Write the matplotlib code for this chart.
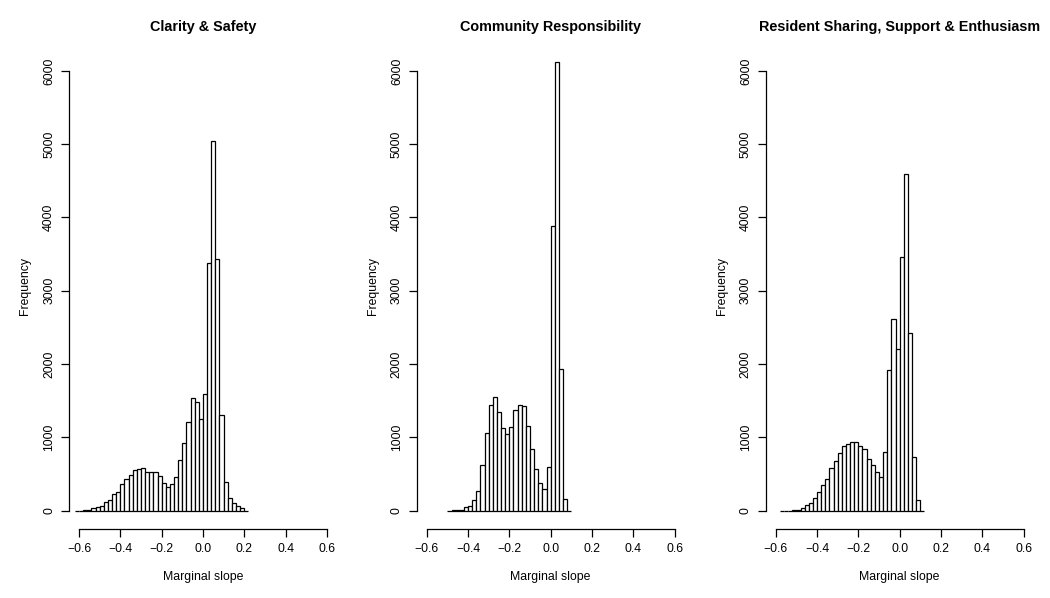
import numpy as np
import matplotlib
matplotlib.use("Agg")
import matplotlib.pyplot as plt

plt.rcParams['font.family'] = ['Liberation Sans', 'DejaVu Sans']

# ----------------------------------------
# Data (bin width 0.02, counts)
# ----------------------------------------
titles = ["Clarity & Safety",
          "Community Responsibility",
          "Resident Sharing, Support & Enthusiasm"]

bin_width = 0.02

clarity_start = -0.62
clarity_counts = [1, 2, 5, 13, 32, 50, 69, 114, 146, 223,
                  260, 369, 428, 492, 551, 569, 578, 532, 523, 523,
                  473, 382, 328, 360, 455, 692, 928, 1210, 1533, 1478,
                  1246, 1588, 3383, 5048, 3429, 1305, 396, 169, 100, 60,
                  30, 2]

community_start = -0.50
community_counts = [1, 3, 5, 13, 50, 64, 146, 273, 619, 1056,
                    1447, 1556, 1351, 1124, 1046, 1137, 1369, 1442, 1428, 1156,
                    838, 573, 373, 291, 600, 3888, 6126, 1929, 160, 2]

resident_start = -0.58
resident_counts = [1, 1, 2, 8, 13, 32, 78, 110, 173, 251,
                   355, 432, 578, 678, 792, 883, 910, 942, 937, 883,
                   837, 705, 619, 523, 455, 805, 1919, 2611, 2206, 3457,
                   4589, 2428, 728, 146, 1]

starts = [clarity_start, community_start, resident_start]
counts = [clarity_counts, community_counts, resident_counts]

x_ticks = [-0.6, -0.4, -0.2, 0.0, 0.2, 0.4, 0.6]
y_ticks = [0, 1000, 2000, 3000, 4000, 5000, 6000]

# ----------------------------------------
# Layout (pixel positions of the plot regions)
# ----------------------------------------
W, H = 1050, 598
fig = plt.figure(figsize=(W / 100, H / 100), dpi=100)

lefts = [69.1, 416.8, 765.8]
width = 267.7
top, bottom = 43.7, 528.7

for i in range(3):
    ax = fig.add_axes([lefts[i] / W, 1 - bottom / H, width / W, (bottom - top) / H])

    edges = starts[i] + bin_width * np.arange(len(counts[i]))
    ax.bar(edges, counts[i], width=bin_width, align='edge',
           color='white', edgecolor='black', linewidth=0.9)

    ax.set_xlim(-0.648, 0.648)
    ax.set_ylim(-245.6, 6371)

    # R style axes: only the span of the ticks is drawn
    for side in ['top', 'right']:
        ax.spines[side].set_visible(False)
    ax.spines['left'].set_bounds(0, 6000)
    ax.spines['bottom'].set_bounds(-0.6, 0.6)
    ax.spines['left'].set_linewidth(0.9)
    ax.spines['bottom'].set_linewidth(0.9)

    ax.set_xticks(x_ticks)
    ax.set_xticklabels([f"{t:.1f}".replace("-", "\u2212") for t in x_ticks])
    ax.set_yticks(y_ticks)
    ax.set_yticklabels([str(t) for t in y_ticks], rotation=90, va='center')
    ax.tick_params(axis='x', length=6, width=0.9, pad=4, labelsize=8.8)
    ax.tick_params(axis='y', length=6, width=0.9, pad=4, labelsize=8.8)

    ax.set_title(titles[i], fontsize=10.4, fontweight='bold', pad=9)

    ax.set_xlabel("Marginal slope", fontsize=8.8)
    ax.xaxis.label.set_va('center')
    ax.xaxis.set_label_coords(0.5, -(576.7 - bottom) / (bottom - top))

    ax.set_ylabel("Frequency", fontsize=8.8)
    ax.yaxis.label.set_va('center')
    ax.yaxis.set_label_coords(-44.0 / width, 0.5)

    ax.set_facecolor('white')

fig.savefig("out.png", dpi=100, facecolor='white')
